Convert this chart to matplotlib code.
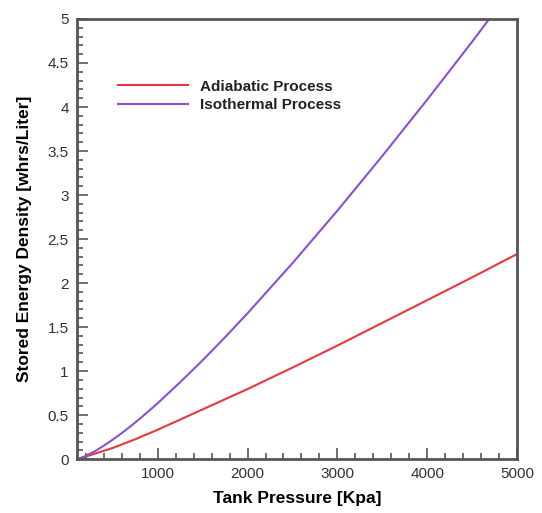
import matplotlib
matplotlib.use("Agg")
import matplotlib.pyplot as plt
from matplotlib.ticker import MultipleLocator

plt.rcParams["font.family"] = ["Liberation Sans", "DejaVu Sans"]

# tank pressure [kPa] and stored energy density [Wh/L]
pressure_iso = [101, 150, 200, 300, 400, 500, 600, 700, 800, 900, 1000, 1250, 1500, 1750,
                2000, 2500, 3000, 3500, 4000, 4500, 4690]
energy_iso = [0.0, 0.016, 0.038, 0.089, 0.153, 0.222, 0.296, 0.375, 0.459, 0.546, 0.636,
              0.874, 1.123, 1.385, 1.657, 2.226, 2.823, 3.444, 4.084, 4.742, 5.0]

pressure_adi = [101, 200, 300, 500, 750, 1000, 1500, 2000, 2500, 3000, 3500, 4000, 4500, 5000]
energy_adi = [0.0, 0.03, 0.062, 0.127, 0.226, 0.334, 0.565, 0.796, 1.04, 1.29, 1.548, 1.806,
              2.065, 2.33]

red = "#e8383d"
purple = "#8a4fd8"
axis_grey = "#555555"

fig = plt.figure(figsize=(5.42, 5.13), dpi=100)
ax = fig.add_axes([0.142, 0.105, 0.812, 0.858])

ax.plot(pressure_adi, energy_adi, color=red, linewidth=1.5, label="Adiabatic Process")
ax.plot(pressure_iso, energy_iso, color=purple, linewidth=1.5, label="Isothermal Process")

ax.set_xlim(101, 5000)
ax.set_ylim(0, 5)
ax.xaxis.set_major_locator(MultipleLocator(1000))
ax.xaxis.set_minor_locator(MultipleLocator(200))
ax.yaxis.set_major_locator(MultipleLocator(0.5))
ax.yaxis.set_minor_locator(MultipleLocator(0.1))
ax.yaxis.set_major_formatter(lambda v, pos: f"{v:g}")

ax.tick_params(which="both", direction="in", top=False, right=False,
               color=axis_grey, labelsize=11, labelcolor="#333333", width=1.2)
ax.tick_params(which="major", length=8, pad=6)
ax.tick_params(which="minor", length=4)
for sp in ax.spines.values():
    sp.set_color(axis_grey)
    sp.set_linewidth(2)

ax.set_xlabel("Tank Pressure [Kpa]", fontsize=12.5, fontweight="bold", labelpad=7)
ax.set_ylabel("Stored Energy Density [whrs/Liter]", fontsize=12.5, fontweight="bold", labelpad=11)

leg = ax.legend(loc="upper left", bbox_to_anchor=(0.093, 0.862), borderaxespad=0,
                borderpad=0, frameon=False, fontsize=11, handlelength=4.6,
                handletextpad=0.8, labelspacing=0.3)
for t in leg.get_texts():
    t.set_fontweight("bold")
    t.set_color("#222222")

fig.savefig("out.png", dpi=100)
